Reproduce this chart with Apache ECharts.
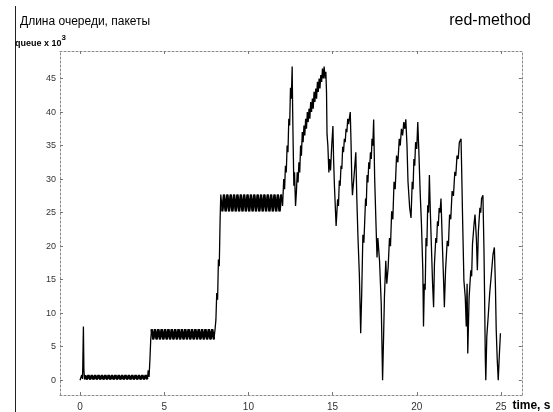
<!DOCTYPE html>
<html>
<head>
<meta charset="utf-8">
<script src="https://cdn.jsdelivr.net/npm/echarts@6/dist/echarts.min.js"></script>
<style>html,body{margin:0;padding:0;background:#fff;}#c{width:553px;height:412px;}</style>
</head>
<body>
<div id="c"></div>
<script>
// Tick labels
const xTicks = [0, 5, 10, 15, 20, 25];
const yTicks = [0, 5, 10, 15, 20, 25, 30, 35, 40, 45];

// Queue length (x 10^3 packets) vs time (s), [t, value]
const startSpike = [[0,0],[0.1,0.8],[0.15,0.2],[0.2,8.0],[0.23,1.5],[0.27,0.1]];
const firstLevel = [[0.3,0.75],[0.4,0.15],[0.5,0.75],[0.6,0.15],[0.7,0.75],[0.8,0.15],[0.9,0.75],[1.0,0.15],[1.1,0.75],[1.2,0.15],[1.3,0.75],[1.4,0.15],[1.5,0.75],[1.6,0.15],[1.7,0.75],[1.8,0.15],[1.9,0.75],[2.0,0.15],[2.1,0.75],[2.2,0.15],[2.3,0.75],[2.4,0.15],[2.5,0.75],[2.6,0.15],[2.7,0.75],[2.8,0.15],[2.9,0.75],[3.0,0.15],[3.1,0.75],[3.2,0.15],[3.3,0.75],[3.4,0.15],[3.5,0.75],[3.6,0.15],[3.7,0.75],[3.8,0.15],[3.9,0.75],[4.0,0.15]];
const firstStep = [[4.05,1.5],[4.1,0.5],[4.15,3.0],[4.2,6.1]];
const secondLevel = [[4.25,7.6],[4.35,6.1],[4.45,7.6],[4.55,6.1],[4.65,7.6],[4.75,6.1],[4.85,7.6],[4.95,6.1],[5.05,7.6],[5.15,6.1],[5.25,7.6],[5.35,6.1],[5.45,7.6],[5.55,6.1],[5.65,7.6],[5.75,6.1],[5.85,7.6],[5.95,6.1],[6.05,7.6],[6.15,6.1],[6.25,7.6],[6.35,6.1],[6.45,7.6],[6.55,6.1],[6.65,7.6],[6.75,6.1],[6.85,7.6],[6.95,6.1],[7.05,7.6],[7.15,6.1],[7.25,7.6],[7.35,6.1],[7.45,7.6],[7.55,6.1],[7.65,7.6],[7.75,6.1],[7.85,7.6],[7.95,6.1]];
const secondStep = [[8.02,7.6],[8.07,9],[8.12,13],[8.17,12],[8.22,18],[8.27,17],[8.32,24],[8.36,27.7]];
const thirdLevel = [[8.45,25.2],[8.55,27.7],[8.65,25.2],[8.75,27.7],[8.85,25.2],[8.95,27.7],[9.05,25.2],[9.15,27.7],[9.25,25.2],[9.35,27.7],[9.45,25.2],[9.55,27.7],[9.65,25.2],[9.75,27.7],[9.85,25.2],[9.95,27.7],[10.05,25.2],[10.15,27.7],[10.25,25.2],[10.35,27.7],[10.45,25.2],[10.55,27.7],[10.65,25.2],[10.75,27.7],[10.85,25.2],[10.95,27.7],[11.05,25.2],[11.15,27.7],[11.25,25.2],[11.35,27.7],[11.45,25.2],[11.55,27.7],[11.65,25.2],[11.75,27.7],[11.85,25.2],[11.95,27.7]];

const burstPhase = [[12.03,26],[12.1,30],[12.15,28.5],[12.2,32],[12.25,31],[12.3,35],[12.35,34],[12.4,39],[12.45,38],[12.5,43.6],[12.55,42],[12.6,46.8],[12.63,40],[12.66,35],[12.7,29],[12.74,31],[12.8,26],[12.85,28],[12.9,31],[12.95,29.5],[13.0,32.5],[13.05,31],[13.1,35],[13.15,33.5],[13.2,37],[13.25,35.5],[13.3,38],[13.35,36.5],[13.4,39],[13.45,37.5],[13.5,40],[13.55,38.5],[13.6,40.5],[13.65,39],[13.7,41.5],[13.75,40],[13.8,42],[13.85,40.5],[13.9,43],[13.95,41.5],[14.0,43.5],[14.05,42],[14.1,44.5],[14.15,43],[14.2,45],[14.25,43.5],[14.3,45.5],[14.35,44.5],[14.4,46.5],[14.45,45],[14.5,46.8],[14.55,45],[14.6,46],[14.64,43],[14.67,36.7],[14.72,35],[14.78,31],[14.82,33],[14.88,31.3],[14.95,35],[15.02,37.9],[15.06,33],[15.11,29],[15.16,26],[15.21,23],[15.3,27],[15.35,26],[15.4,29.8],[15.45,29],[15.5,32],[15.55,31.5],[15.6,34.8],[15.65,34],[15.7,36],[15.75,35.5],[15.8,37.5],[15.85,37],[15.9,39],[15.95,38.2],[16.05,40],[16.1,35],[16.14,30]];

const chaoticPhase = [[16.18,27.6],[16.28,30.6],[16.38,34],[16.44,27.1],[16.51,21.2],[16.59,15.8],[16.67,7.0],[16.73,12.9],[16.8,21.7],[16.86,20.5],[16.96,27.1],[17.0,26],[17.05,30.6],[17.1,29.5],[17.15,32.5],[17.2,31.5],[17.25,34],[17.3,33],[17.34,36],[17.39,35],[17.44,38.9],[17.5,30.1],[17.58,23.2],[17.64,18.3],[17.69,21.2],[17.79,17.8],[17.89,11.4],[17.97,0],[18.03,6.5],[18.08,12.4],[18.16,17.8],[18.22,14.4],[18.3,16.8],[18.38,21.2],[18.44,20],[18.51,25.2],[18.58,24],[18.65,29.6],[18.72,28.5],[18.8,33.5],[18.88,32.5],[18.96,36],[19.02,35],[19.09,37.5],[19.16,36.5],[19.23,38.5],[19.29,37.5],[19.35,38.9],[19.42,35],[19.48,29.6],[19.58,25.7],[19.66,24.2],[19.73,29.6],[19.78,28.5],[19.83,33],[19.88,32],[19.93,35.5],[20.0,34.5],[20.06,38.5],[20.12,34.5],[20.2,28.2],[20.28,23.2],[20.36,16.4],[20.4,8.0],[20.45,14.4],[20.5,13.5],[20.55,21.2],[20.6,20],[20.65,26.1],[20.7,25],[20.75,30.6],[20.8,25.7],[20.86,20.8],[20.94,14.4],[21.0,10.9],[21.05,17.3],[21.13,21.2],[21.18,20.5],[21.23,23.7],[21.28,23],[21.33,25.7],[21.38,25],[21.44,27.1],[21.52,20.3],[21.6,14.4],[21.64,10.9],[21.71,16.4],[21.81,20.8],[21.88,20],[21.95,24.7],[22.02,24],[22.1,28.2],[22.18,27.5],[22.26,31.1],[22.32,30.5],[22.39,33.5],[22.46,33],[22.53,35.5],[22.63,36],[22.67,31.1],[22.73,23.2],[22.8,14.9],[22.88,12.4],[22.94,8.0],[22.99,14.4],[23.03,4.0],[23.11,12.4],[23.21,16.4],[23.26,15.5],[23.31,20.3],[23.4,23.2],[23.46,24.7],[23.54,21.2],[23.6,16.4],[23.66,22.2],[23.75,25.7],[23.8,25],[23.85,27.1],[23.93,27.6],[23.99,19.8],[24.03,12.4],[24.07,3.5],[24.1,0],[24.16,6.5],[24.24,9.4],[24.33,12.9],[24.43,15.8],[24.53,18.8],[24.61,19.8],[24.67,14.4],[24.72,7.5],[24.78,3.1],[24.84,0],[24.9,3.5],[24.97,7.0]];

const queueData = startSpike.concat(firstLevel, firstStep, secondLevel, secondStep, thirdLevel, burstPhase, chaoticPhase);

const font = 'Liberation Sans, Arial, Helvetica, sans-serif';
const frameLine = { show: true, onZero: false, lineStyle: { color: '#8a8a8a', width: 1, type: [2, 2] } };
const tickStyle = { color: '#777', width: 1 };
const xMin = -1.19, xMax = 26.24, yMin = -2.2, yMax = 49.1;

function levelSeries(data) {
  return { type: 'line', data: data, xAxisIndex: 0, yAxisIndex: 0, showSymbol: false, symbol: 'none',
    lineStyle: { color: '#000', width: 2.4, join: 'bevel', cap: 'butt' }, emphasis: { disabled: true }, silent: true, z: 3 };
}

const chart = echarts.init(document.getElementById('c'), null, { renderer: 'canvas' });
chart.setOption({
  animation: false,
  backgroundColor: '#fff',
  textStyle: { fontFamily: font },
  title: [
    { text: 'Длина очереди, пакеты', left: 20, top: 16, padding: 0,
      textStyle: { fontSize: 12, fontWeight: 'normal', color: '#000', fontFamily: font } },
    { text: 'red-method', right: 22, top: 13, padding: 0,
      textStyle: { fontSize: 16, fontWeight: 'normal', color: '#000', fontFamily: font } },
    { text: '{b|queue x 10}{s|3}', left: 15, top: 34, padding: 0,
      textStyle: { fontFamily: font, rich: {
        b: { fontSize: 9, fontWeight: 'bold', color: '#000', lineHeight: 14, verticalAlign: 'bottom', fontFamily: font },
        s: { fontSize: 8, fontWeight: 'bold', color: '#000', lineHeight: 14, verticalAlign: 'top', fontFamily: font }
      } } }
  ],
  graphic: [
    { type: 'line', shape: { x1: 15.5, y1: 6, x2: 15.5, y2: 412 }, style: { stroke: '#222', lineWidth: 1 } }
  ],
  grid: { left: 60, right: 22, top: 51, bottom: 13, containLabel: false },
  xAxis: [
    { type: 'value', min: xMin, max: xMax, position: 'bottom',
      axisLine: frameLine,
      axisTick: { show: true, inside: true, length: 3, customValues: xTicks, lineStyle: tickStyle },
      axisLabel: { show: true, customValues: xTicks, fontSize: 10, color: '#333', margin: 7, fontFamily: font },
      splitLine: { show: false },
      name: 'time, s', nameLocation: 'end', nameGap: -18,
      nameTextStyle: { fontSize: 12, fontWeight: 'bold', color: '#000', align: 'left', verticalAlign: 'top', padding: [5, 0, 0, 0], fontFamily: font } },
    { type: 'value', min: xMin, max: xMax, position: 'top',
      axisLine: frameLine,
      axisTick: { show: true, inside: true, length: 3, customValues: xTicks, lineStyle: tickStyle },
      axisLabel: { show: false }, splitLine: { show: false } }
  ],
  yAxis: [
    { type: 'value', min: yMin, max: yMax, position: 'left',
      axisLine: frameLine,
      axisTick: { show: true, inside: true, length: 3, customValues: yTicks, lineStyle: tickStyle },
      axisLabel: { show: true, customValues: yTicks, fontSize: 9, color: '#333', margin: 4, fontFamily: font },
      splitLine: { show: false } },
    { type: 'value', min: yMin, max: yMax, position: 'right',
      axisLine: frameLine,
      axisTick: { show: true, inside: true, length: 3, customValues: yTicks, lineStyle: tickStyle },
      axisLabel: { show: false }, splitLine: { show: false } }
  ],
  series: [
    { type: 'line', name: 'queue', xAxisIndex: 0, yAxisIndex: 0, data: queueData,
      showSymbol: false, symbol: 'none', sampling: null, z: 4,
      lineStyle: { color: '#000', width: 1.3 }, emphasis: { disabled: true } },
    levelSeries(firstLevel),
    levelSeries(secondLevel),
    levelSeries(thirdLevel)
  ]
});
</script>
</body>
</html>
